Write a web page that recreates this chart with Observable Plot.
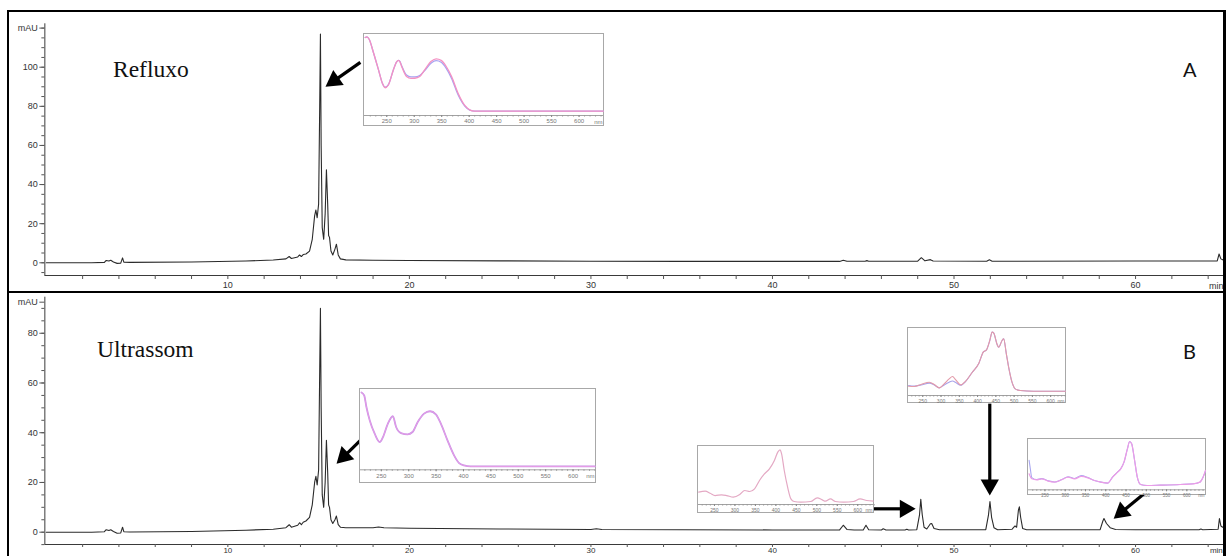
<!DOCTYPE html>
<html><head><meta charset="utf-8">
<script src="https://cdn.jsdelivr.net/npm/d3@7"></script>
<script src="https://cdn.jsdelivr.net/npm/@observablehq/plot@0.6"></script>
<style>
html,body{margin:0;padding:0;background:#fff;overflow:hidden;width:1228px;height:556px;}
#root{position:relative;width:1228px;height:556px;overflow:hidden;background:#fff;}
.panel{position:absolute;border:2px solid #000;border-right-width:3px;box-sizing:border-box;}
.inset{position:absolute;border:1px solid #a8a8a8;box-sizing:border-box;background:#fff;}
.inset svg{overflow:visible;}
.lab{position:absolute;font-family:"Liberation Serif","Times New Roman",serif;font-size:23.5px;line-height:1;color:#111;white-space:nowrap;}
.letter{position:absolute;font-family:Lato,"Open Sans",sans-serif;font-size:20px;line-height:1;color:#111;}
</style></head>
<body><div id="root"></div>
<script>
// ---------- Chromatogram data (time in min, absorbance in mAU) ----------
const refluxo = [
  [0,0],[2.5,0],[3.2,0.2],[3.3,1.2],[3.45,0.9],[3.55,1.3],[3.7,0.4],[3.9,-0.3],[4.1,-0.2],[4.2,2.5],[4.27,0.3],[4.6,0.2],
  [8,0.4],[11,0.9],[12.5,1.4],[13.2,2],[13.38,3.2],[13.5,2.2],[13.85,3],[13.95,4],[14.05,3.2],[14.15,4.2],[14.3,4.5],
  [14.5,6],[14.65,12],[14.78,24],[14.85,27],[14.92,23],[15.0,30],[15.06,80],[15.1,117],[15.14,60],[15.2,18],[15.28,12],
  [15.36,25],[15.43,47.5],[15.5,30],[15.55,14],[15.6,13],[15.68,6],[15.78,4],[15.9,7],[15.98,9.5],[16.08,4],[16.2,2],
  [16.5,1.5],[18,1.3],[20,1.2],[25,1],[30,0.8],[35,0.7],[40,0.7],[43.7,0.7],[43.9,1.3],[44.1,0.8],[45.1,0.8],[45.2,1.1],
  [45.3,0.8],[48.0,0.8],[48.2,2.6],[48.4,1],[48.7,1.6],[48.85,0.9],[51.8,0.8],[51.95,1.5],[52.1,0.8],[60,0.9],[64.5,1],
  [64.6,4.5],[64.7,2],[64.8,1.5]
];
const ultrassom = [
  [0,0],[2.5,0],[3.2,0.2],[3.3,1],[3.45,0.7],[3.55,1],[3.7,0.3],[3.9,-0.4],[4.1,-0.3],[4.2,2],[4.27,0.2],[4.6,0.1],
  [8,0.3],[11,0.8],[12.5,1.2],[13.2,1.8],[13.38,3],[13.5,2],[13.85,2.8],[13.95,3.8],[14.05,3],[14.15,4],[14.3,4.5],
  [14.5,6],[14.65,11],[14.78,20],[14.85,22.5],[14.92,19],[15.0,25],[15.06,65],[15.1,90],[15.14,50],[15.2,15],[15.28,10],
  [15.36,20],[15.43,37],[15.5,24],[15.55,11],[15.6,10],[15.68,5],[15.78,3.5],[15.9,5],[15.98,6.5],[16.08,3],[16.2,2],
  [16.5,1.8],[18,1.8],[18.3,2.1],[18.6,1.8],[20,1.6],[25,1.3],[30,1.1],[30.3,1.4],[30.6,1.1],[35,1],[40,0.9],
  [43.7,0.9],[43.9,2.8],[44.1,1.1],[44.5,0.9],[45.0,0.9],[45.15,2.8],[45.3,1],[46.0,0.9],[46.1,1.4],[46.25,0.9],
  [47.3,0.9],[47.4,1.2],[47.5,0.9],[47.95,1],[48.1,7],[48.17,13.2],[48.25,7],[48.35,2],[48.5,1.3],[48.7,3.4],[48.77,3.5],
  [48.9,1.5],[49.2,1],[51.75,1],[51.9,7],[51.98,12.3],[52.07,6],[52.2,1.8],[52.4,1],[53.2,1.2],[53.36,2.5],[53.45,2],
  [53.55,9],[53.6,10.2],[53.67,6],[53.78,1.5],[54,1],[58.05,1],[58.2,4.5],[58.26,5.5],[58.4,3.5],[58.6,1.8],[58.9,1.1],
  [60,1],[63.5,1],[63.6,1.3],[63.7,1],[64.55,1.2],[64.62,5.5],[64.7,2.5],[64.8,2]
];

// ---------- UV spectra of the marked peaks (nm, relative absorbance) ----------
const specA_pink = [[210.8,100],[214,101],[218,97.7],[226,79],[235,56],[242,38],[247,31.8],[253,35.5],[262,56],[268,67],[271,69],[274,67],[277,61],[286,47],[294,44.5],[301,44.7],[310,47],[319,56],[331,67.7],[340,71],[349,69],[358,61],[368,47],[380,24],[392,7.8],[401,1.8],[410,0],[644,0]];
const specA_blue = [[210.8,100],[214,101],[218,97.7],[226,79],[235,56],[242,38],[247,32.5],[253,36],[262,56],[268,67],[271,69],[274,67.5],[277,62],[286,49],[294,46.5],[301,46.5],[310,48.5],[319,55],[331,65.5],[340,68.5],[349,66.5],[358,58.5],[368,44.5],[380,22],[392,7],[401,1.5],[410,0],[644,0]];
const specB1 = [[213.8,100],[218.7,96],[222.8,80.5],[228.8,62.4],[237.9,44.3],[247,33],[253,39.8],[262,58],[271,67.9],[277,53.4],[286,45.2],[298,43.4],[307,46.6],[316.5,60.2],[328,71.5],[339,74.7],[349.6,70.6],[358.7,58],[370.8,35.3],[382.8,15],[392,4.5],[401,1.4],[413,0],[640,0]];
const specB2 = [[211.4,19.1],[227.3,21],[239.4,17.2],[251.5,12.7],[267.6,14],[279.7,12.7],[295.9,9.6],[311.8,14.6],[323.9,22.3],[336,20.4],[348,25.5],[360,41.4],[372,54],[384.3,63.7],[396.4,79.6],[404.6,95.5],[410,100],[414,92.4],[420.5,60.5],[428.7,28.7],[436.7,6.4],[444.7,1.3],[460.9,0],[485,1.3],[501,8.3],[513.3,4.5],[521,1.9],[533.3,6.4],[545.4,1.3],[565.5,0],[589.6,1.3],[605.8,6.4],[622,3.2],[638,1.9]];
const specB3_red = [[211,8.4],[227.2,7.8],[245.4,11.2],[268,15.1],[281.5,11.2],[295,5.6],[308.6,12.3],[322.2,20.7],[331.4,24.6],[340.3,19],[354,10.6],[367.5,16.8],[385.6,31.8],[403.6,46.9],[415.5,65.4],[424.4,69.3],[433.4,84.9],[440,98.9],[444.3,97.2],[453.5,78.2],[457.8,73.7],[467,84.9],[471.4,87.7],[478.7,62.6],[485,40.2],[494.2,15.1],[503,3.9],[516.7,1.1],[552.8,0],[640.7,0]];
const specB3_blue = [[211,9.5],[227.2,8.5],[245.4,10.5],[268,13.5],[281.5,10.5],[295,5.6],[308.6,10.5],[322.2,15],[331.4,17],[340.3,14.5],[354,10],[367.5,16.5],[385.6,31.8],[403.6,46.9],[415.5,65.4],[424.4,69.3],[433.4,84.9],[440,98.9],[444.3,97.2],[453.5,78.2],[457.8,73.7],[467,84.9],[471.4,87.7],[478.7,62.6],[485,40.2],[494.2,15.1],[503,3.9],[516.7,1.1],[552.8,0],[640.7,0]];
const specB4_pink = [[211,26.5],[217.6,15.2],[229.8,12.9],[242,15.2],[258.3,9.8],[274.4,7.6],[290.7,12.9],[307,18.9],[323.2,15.2],[339.5,20.5],[355.9,17.4],[372,11.4],[388.3,7.6],[404.6,5.3],[416.8,18.9],[429,30.3],[437,37.9],[445,53],[453.4,83.3],[459,100],[463.9,94.7],[471.2,56.8],[477.8,18.9],[485.9,2.3],[502,0],[534.6,0.8],[583.4,2.3],[615.9,3.8],[632,7.6],[640,18.9],[645.8,34.1]];
const specB4_blue = [[211,57],[214,38],[217.6,18],[229.8,13.5],[242,15.5],[258.3,10.5],[274.4,8],[290.7,13],[307,20],[323.2,16],[339.5,22.5],[355.9,18],[372,11.4],[388.3,7.6],[404.6,5.3],[416.8,18.9],[429,30.3],[437,37.9],[445,53],[453.4,83.3],[459,100],[463.9,94.7],[471.2,56.8],[477.8,18.9],[485.9,2.3],[502,0],[534.6,0.8],[583.4,2.3],[615.9,3.8],[632,7.6],[640,18.9],[645.8,32]];

// ---------- Axis tick values / labels ----------
const xTicks = d3.range(2, 64.5, 2);
const xLabels = [10, 20, 30, 40, 50, 60];
const yMajorA = [0, 20, 40, 60, 80, 100];
const yMajorB = [0, 20, 40, 60, 80];
const nmTicks = d3.range(220, 641, 10);
const nmLabels = [250, 300, 350, 400, 450, 500, 550, 600];

// ---------- Annotation arrows (data coordinates of each panel) ----------
const arrowsA = [{x1: 17.3, y1: 102.5, x2: 15.45, y2: 90.5}];
const arrowsB = [
  {x1: 17.3, y1: 36.9, x2: 16.05, y2: 28},
  {x1: 45.58, y1: 9.4, x2: 47.8, y2: 9.4},
  {x1: 51.97, y1: 51.7, x2: 51.97, y2: 15.4},
  {x1: 60.45, y1: 15.4, x2: 58.86, y2: 5.8}
];

const root = document.getElementById("root");
const W = 1228, ML = 44.35, MR = 4.9;
const xDomain = [-0.08, 64.85];

function arrowMarks(arrows, ky) {
  const kx = (W - ML - MR) / (xDomain[1] - xDomain[0]);
  const heads = arrows.map(a => {
    const dxp = (a.x2 - a.x1) * kx, dyp = -(a.y2 - a.y1) * ky;
    const L = Math.hypot(dxp, dyp), ux = dxp / L, uy = dyp / L;
    const back = 9, stem = 10;
    return {
      x1: a.x1, y1: a.y1,
      sx: a.x2 - ux * stem / kx, sy: a.y2 + uy * stem / ky,
      cx: a.x2 - ux * back / kx, cy: a.y2 + uy * back / ky,
      rot: Math.atan2(dxp, -dyp) * 180 / Math.PI
    };
  });
  return [
    Plot.link(heads, {x1: "x1", y1: "y1", x2: "sx", y2: "sy", stroke: "#000", strokeWidth: 3.2}),
    Plot.dot(heads, {x: "cx", y: "cy", symbol: "triangle", r: 6.8, fill: "#000", stroke: "none", rotate: "rot"})
  ];
}

function chrom({data, top, height, marginTop, marginBottom, yDomain, yMajor, mauAt, arrows, xTickSize, xPad, xFont, minDy}) {
  const ky = (height - marginTop - marginBottom) / (yDomain[1] - yDomain[0]);
  const yMinor = d3.range(-5, yDomain[1], 5);
  const p = Plot.plot({
    width: W, height, marginLeft: ML, marginRight: MR, marginTop, marginBottom,
    x: {domain: xDomain, axis: null}, y: {domain: yDomain, axis: null},
    style: {fontFamily: "'Liberation Sans', Arial, sans-serif", overflow: "visible", background: "transparent"},
    marks: [
      Plot.ruleX([xDomain[0]], {stroke: "#3a3a3a", strokeWidth: 1}),
      Plot.ruleY([yDomain[0]], {stroke: "#3a3a3a", strokeWidth: 1}),
      Plot.axisY({ticks: yMinor, tickSize: 3, tickFormat: () => "", stroke: "#555", label: null}),
      Plot.axisY({ticks: [...yMajor, mauAt], tickSize: 5, tickPadding: 2, fontSize: 9, fill: "#333", stroke: "#555",
        tickFormat: d => d === mauAt ? "mAU" : String(d), label: null}),
      Plot.axisX({ticks: xTicks, tickSize: xTickSize, tickPadding: xPad, fontSize: xFont, fill: "#333", stroke: "#555",
        tickFormat: d => xLabels.includes(d) ? String(d) : "", label: null}),
      Plot.text(["min"], {x: 64.45, y: yDomain[0], dy: minDy, fontSize: xFont, fill: "#333"}),
      Plot.line(data, {x: d => d[0], y: d => d[1], stroke: "#2b2b2b", strokeWidth: 1.1}),
      ...arrowMarks(arrows, ky)
    ]
  });
  p.style.position = "absolute"; p.style.left = "0px"; p.style.top = top + "px";
  root.appendChild(p);
}

chrom({data: refluxo, top: 10, height: 282, marginTop: 13.3, marginBottom: 17, yDomain: [-6.5, 122.2], yMajor: yMajorA, mauAt: 120, arrows: arrowsA, xTickSize: 4, xPad: 2, xFont: 9, minDy: 11});
chrom({data: ultrassom, top: 292, height: 274, marginTop: 4.7, marginBottom: 22, yDomain: [-4.95, 94.5], yMajor: yMajorB, mauAt: 92.5, arrows: arrowsB, xTickSize: 3, xPad: 0, xFont: 8, minDy: 5.5});

function inset({left, top, width, height, xDomain, yDomain, marginBottom, fontSize, series}) {
  const div = document.createElement("div");
  div.className = "inset";
  Object.assign(div.style, {left: left + "px", top: top + "px", width: width + "px", height: height + "px"});
  const p = Plot.plot({
    width: width - 2, height: height - 2, marginLeft: 0, marginRight: 0, marginTop: 0, marginBottom,
    x: {domain: xDomain, axis: null}, y: {domain: yDomain, axis: null},
    style: {fontFamily: "'Liberation Sans', Arial, sans-serif", overflow: "visible", background: "transparent"},
    marks: [
      Plot.ruleY([yDomain[0]], {stroke: "#8a8a8a", strokeWidth: 0.8}),
      Plot.axisX({ticks: nmTicks, tickSize: 1.5, tickFormat: () => "", stroke: "#999", label: null}),
      Plot.axisX({ticks: nmLabels, tickSize: 2, tickPadding: 1.5, fontSize, fill: "#777", stroke: "#888", label: null}),
      Plot.text(["nm"], {frameAnchor: "bottom-right", dy: fontSize * 1.05 + 2, dx: -1, textAnchor: "end", fontSize, fill: "#777"}),
      ...series.map(s => Plot.line(s.data, {x: d => d[0], y: d => d[1], stroke: s.color, strokeWidth: s.width || 1.3, curve: "monotone-x"}))
    ]
  });
  div.appendChild(p);
  root.appendChild(div);
}

inset({left: 363, top: 33, width: 241, height: 93, xDomain: [209.5, 644.5], yDomain: [-5.9, 104.1], marginBottom: 10, fontSize: 6,
  series: [{data: specA_blue, color: "#a7a4f2"}, {data: specA_pink, color: "#f491c3"}]});
inset({left: 359, top: 388, width: 237, height: 95, xDomain: [212, 641], yDomain: [-4.5, 104.1], marginBottom: 12.7, fontSize: 6,
  series: [{data: specB1, color: "#c893e6", width: 1.8}, {data: specB1, color: "#ee9ee6", width: 0.8}]});
inset({left: 697, top: 445, width: 177, height: 68, xDomain: [211, 638.5], yDomain: [-4.4, 106.3], marginBottom: 8, fontSize: 5,
  series: [{data: specB2, color: "#e4a9c4", width: 1.2}]});
inset({left: 907, top: 327, width: 159, height: 76, xDomain: [211, 640.6], yDomain: [-7.2, 105], marginBottom: 7, fontSize: 5,
  series: [{data: specB3_blue, color: "#a8a2ea", width: 1.1}, {data: specB3_red, color: "#e39aa9", width: 1.1}]});
inset({left: 1027, top: 438, width: 179, height: 57, xDomain: [209.5, 646], yDomain: [-9.8, 104.5], marginBottom: 4.7, fontSize: 4.5,
  series: [{data: specB4_blue, color: "#a8a6f0", width: 1.1}, {data: specB4_pink, color: "#ec9ce6", width: 1.2}]});

// panel frames
function panel(left, top, width, height) {
  const d = document.createElement("div");
  d.className = "panel";
  Object.assign(d.style, {left: left + "px", top: top + "px", width: width + "px", height: height + "px"});
  root.appendChild(d);
}
panel(7, 10, 1219, 283);
panel(7, 291, 1219, 290);

// labels
function label(cls, text, left, top) {
  const d = document.createElement("div");
  d.className = cls; d.textContent = text;
  Object.assign(d.style, {left: left + "px", top: top + "px"});
  root.appendChild(d);
}
label("lab", "Refluxo", 113, 58);
label("lab", "Ultrassom", 97, 338);
label("letter", "A", 1183, 59);
label("letter", "B", 1183, 341);
</script>
</body></html>
